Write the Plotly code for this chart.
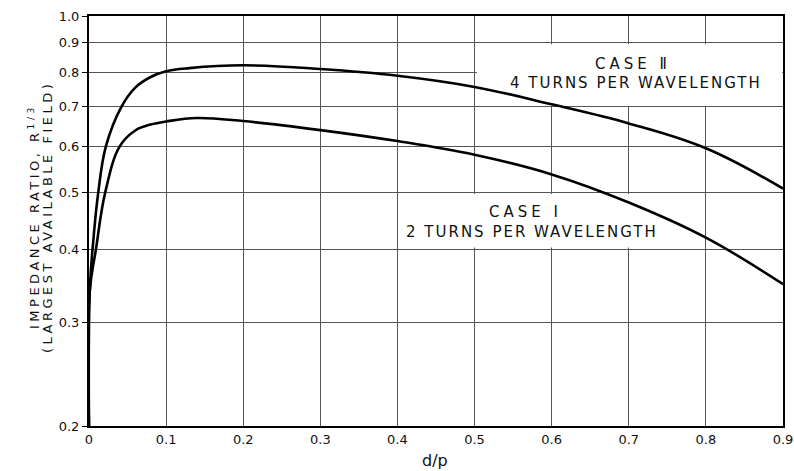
import math
import plotly.graph_objects as go

# d/p values and impedance ratio R^(1/3)
x_case2 = [0.0, 0.001, 0.006, 0.012, 0.022, 0.042, 0.06, 0.08, 0.1, 0.13, 0.2, 0.3, 0.4, 0.5, 0.6, 0.7, 0.8, 0.9]
y_case2 = [0.2, 0.34, 0.42, 0.5, 0.6, 0.7, 0.755, 0.787, 0.805, 0.815, 0.824, 0.812, 0.791, 0.757, 0.707, 0.656, 0.595, 0.508]

x_case1 = [0.0, 0.001, 0.009, 0.021, 0.04, 0.06, 0.08, 0.1, 0.14, 0.2, 0.3, 0.4, 0.5, 0.6, 0.7, 0.8, 0.9]
y_case1 = [0.2, 0.34, 0.4, 0.5, 0.6, 0.638, 0.653, 0.661, 0.67, 0.662, 0.639, 0.612, 0.58, 0.537, 0.481, 0.419, 0.349]

x_ticks = [0, 0.1, 0.2, 0.3, 0.4, 0.5, 0.6, 0.7, 0.8, 0.9]
x_ticklabels = ["0", "0.1", "0.2", "0.3", "0.4", "0.5", "0.6", "0.7", "0.8", "0.9"]
y_ticks = [0.2, 0.3, 0.4, 0.5, 0.6, 0.7, 0.8, 0.9, 1.0]
y_ticklabels = ["0.2", "0.3", "0.4", "0.5", "0.6", "0.7", "0.8", "0.9", "1.0"]

FONT = "DejaVu Sans"
INK = "#111111"

fig = go.Figure()
for xs, ys, name in [(x_case2, y_case2, "Case II"), (x_case1, y_case1, "Case I")]:
    fig.add_trace(go.Scatter(x=xs, y=ys, mode="lines", name=name,
                             line=dict(color="#000000", width=2.6, shape="spline", smoothing=1.1),
                             showlegend=False, hoverinfo="skip"))

# white label boxes covering the grid
fig.add_shape(type="rect", xref="x", yref="y", x0=0.503, x1=0.899, y0=0.703, y1=0.895,
              fillcolor="white", line=dict(width=0), layer="between")
fig.add_shape(type="rect", xref="x", yref="y", x0=0.403, x1=0.797, y0=0.403, y1=0.497,
              fillcolor="white", line=dict(width=0), layer="between")

labels = [
    ("CASE Ⅱ", 0.705, 0.828, 4),
    ("4 TURNS PER WAVELENGTH", 0.709, 0.770, 2),
    ("CASE Ⅰ", 0.566, 0.463, 4),
    ("2 TURNS PER WAVELENGTH", 0.575, 0.428, 2),
]
for txt, lx, ly, ls in labels:
    fig.add_annotation(x=lx, y=math.log10(ly), xref="x", yref="y",
                       text='<span style="letter-spacing:%dpx">%s</span>' % (ls, txt),
                       showarrow=False, xanchor="center", yanchor="middle",
                       font=dict(family=FONT, size=15, color=INK))

# y-axis title (two lines)
ysp = '<span style="letter-spacing:3.5px">{}</span>'
fig.add_annotation(x=0, y=0.5, xref="paper", yref="paper", xanchor="center", yanchor="middle",
                   text=ysp.format("IMPEDANCE RATIO, R<sup>1/3</sup>"), textangle=-90, showarrow=False,
                   xshift=-55, yshift=4, font=dict(family=FONT, size=13, color=INK))
fig.add_annotation(x=0, y=0.5, xref="paper", yref="paper", xanchor="center", yanchor="middle",
                   text=ysp.format("(LARGEST AVAILABLE FIELD)"), textangle=-90, showarrow=False,
                   xshift=-42, yshift=4, font=dict(family=FONT, size=13, color=INK))

# x-axis title
fig.add_annotation(x=0.449, y=0, xref="x", yref="paper", xanchor="center", yanchor="middle",
                   text="d/p", showarrow=False, yshift=-34,
                   font=dict(family=FONT, size=16, color=INK))

fig.update_xaxes(range=[0, 0.9], tickvals=x_ticks, ticktext=x_ticklabels, ticks="",
                 showgrid=True, gridcolor="#555555", gridwidth=1, zeroline=False,
                 showline=True, linecolor="#000000", linewidth=2, mirror=True,
                 tickfont=dict(family=FONT, size=13, color=INK), automargin=False)
fig.update_yaxes(type="log", range=[-0.69897, 0.0], tickvals=y_ticks, ticktext=y_ticklabels,
                 ticks="outside", ticklen=5, tickcolor="#000000", tickwidth=1,
                 showgrid=True, gridcolor="#555555", gridwidth=1, zeroline=False,
                 showline=True, linecolor="#000000", linewidth=2, mirror=True,
                 tickfont=dict(family=FONT, size=13, color=INK), automargin=False)

fig.update_layout(width=794, height=471, margin=dict(l=89, r=11, t=16, b=45),
                  plot_bgcolor="white", paper_bgcolor="white")

fig.write_html("out.html", config={"displayModeBar": False},
               post_script="document.body.style.margin='0';document.body.style.padding='0';")
